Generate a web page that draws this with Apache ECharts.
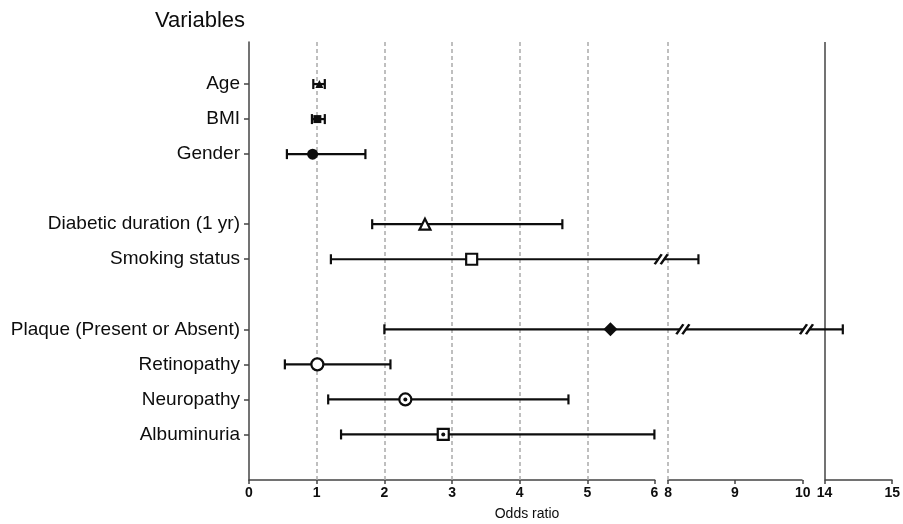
<!DOCTYPE html>
<html><head><meta charset="utf-8">
<script src="https://cdn.jsdelivr.net/npm/echarts@6/dist/echarts.min.js"></script>
<style>html,body{margin:0;padding:0;background:#fff}#c{width:903px;height:524px}</style>
</head><body><div id="c"></div>
<script>
// ---- data ----
const variables = ['Age','BMI','Gender','Diabetic duration (1 yr)','Smoking status','Plaque (Present or Absent)','Retinopathy','Neuropathy','Albuminuria'];
const rowIndex = [1,2,3,5,6,8,9,10,11];
const oddsRatio = [1.04,1.01,0.94,2.60,3.29,5.34,1.01,2.31,2.87];
const ciLower   = [0.95,0.93,0.56,1.82,1.21,2.00,0.53,1.17,1.36];
const ciUpper   = [1.12,1.12,1.72,4.63,8.46,14.27,2.09,4.72,5.99];
const markerShape  = ['triangle','rect','circle','triangle','rect','diamond','circle','circle','rect'];
const markerFilled = [true,true,true,false,false,true,false,false,false];
const markerDot    = [false,false,false,false,false,false,false,true,true];
const refLines = [1,2,3,4,5,8];
const solidLine = [14];
const breakMarkX = [7, 8.23, 10.7];
const breakMarkRow = [6, 8, 8];
const axisBreaks = [[6,8],[10,14]];

// ---- build ----
const INK = '#0d0d0d';
const AX = '#444';
const sizes = {triangle:11, rect:11, circle:12, diamond:14};
const markerData = variables.map((v,i)=>({
  value:[oddsRatio[i], rowIndex[i]],
  symbol: markerShape[i],
  symbolSize: (i<2) ? 8 : (i===2 ? 11 : sizes[markerShape[i]]),
  itemStyle:{color: markerFilled[i] ? INK : '#fff', borderColor: INK, borderWidth: markerFilled[i]?0:2.2, opacity:1}
}));
const dotData = variables.map((v,i)=>markerDot[i]?[oddsRatio[i], rowIndex[i]]:null).filter(d=>d);
const barData = variables.map((v,i)=>[ciLower[i], ciUpper[i], rowIndex[i]]);
const breakData = breakMarkX.map((x,i)=>[x, breakMarkRow[i]]);

const chart = echarts.init(document.getElementById('c'), null, {renderer:'canvas'});
chart.setOption({
  animation:false,
  textStyle:{fontFamily:'Liberation Sans, Arial, sans-serif'},
  grid:{left:249, right:6, top:42, bottom:44, containLabel:false},
  graphic:[
    {type:'text', x:245, y:21, style:{text:'Variables', align:'right', verticalAlign:'middle', textAlign:'right', textVerticalAlign:'middle', font:'22px "Liberation Sans", Arial, sans-serif', fill:INK}},
    {type:'text', x:527, y:514, style:{text:'Odds ratio', align:'center', verticalAlign:'middle', textAlign:'center', textVerticalAlign:'middle', font:'14px "Liberation Sans", Arial, sans-serif', fill:INK}}
  ],
  xAxis:{
    type:'value', min:0, max:15, interval:1, position:'bottom',
    breaks: axisBreaks.map(b=>({start:b[0], end:b[1], gap: b[0]===6 ? '1.9%' : '3.4%'})),
    breakArea:{show:true, expandOnClick:false, zigzagAmplitude:0, zigzagZ:1,
      itemStyle:{color:'#fff', borderWidth:0, opacity:1}},
    axisLine:{show:true, onZero:false, lineStyle:{color:AX, width:1.5}},
    axisTick:{show:true, length:4, lineStyle:{color:AX, width:1.5}},
    axisLabel:{fontSize:14, fontWeight:'bold', color:INK, margin:6},
    splitLine:{show:false}
  },
  yAxis:{
    type:'value', inverse:true, min:-0.2, max:12.3,
    axisLine:{show:true, onZero:false, lineStyle:{color:AX, width:1.5}},
    axisTick:{show:true, length:5, customValues:rowIndex, lineStyle:{color:AX, width:1.5}},
    axisLabel:{customValues:rowIndex, fontSize:19, color:INK, margin:9,
      formatter:(v)=>{const k=rowIndex.indexOf(Math.round(v)); return k>=0?variables[k]:'';}},
    splitLine:{show:false}
  },
  series:[
    {type:'line', data:[], z:1, silent:true,
      markLine:{silent:true, symbol:'none', label:{show:false}, animation:false,
        data:[...refLines.map(x=>({xAxis:x, lineStyle:{type:[4,3], color:'#aaaaaa', width:1.5}})),
              ...solidLine.map(x=>({xAxis:x, lineStyle:{type:'solid', color:AX, width:1.5}}))]}},
    {type:'custom', z:5, data:barData, encode:{x:[0,1], y:2}, silent:true,
      renderItem:(params, api)=>{
        const y = api.value(2);
        const p1 = api.coord([api.value(0), y]);
        const p2 = api.coord([api.value(1), y]);
        const h = 5;
        const st = {stroke:INK, lineWidth:2.2};
        return {type:'group', children:[
          {type:'line', shape:{x1:p1[0],y1:p1[1],x2:p2[0],y2:p2[1]}, style:st},
          {type:'line', shape:{x1:p1[0],y1:p1[1]-h,x2:p1[0],y2:p1[1]+h}, style:st},
          {type:'line', shape:{x1:p2[0],y1:p2[1]-h,x2:p2[0],y2:p2[1]+h}, style:st}
        ]};
      }},
    {type:'scatter', z:6, silent:true, data:breakData,
      symbol:'path://M0,10L7,0L13,0L6,10Z', symbolSize:[13,10], symbolKeepAspect:false,
      itemStyle:{color:'#fff', opacity:1}},
    {type:'scatter', z:7, silent:true, data:breakData,
      symbol:'path://M0,10L7,0M6,10L13,0', symbolSize:[13,10], symbolKeepAspect:false,
      itemStyle:{color:'transparent', borderColor:INK, borderWidth:2.2, opacity:1}},
    {type:'scatter', z:8, silent:true, data:markerData, itemStyle:{opacity:1}},
    {type:'scatter', z:9, silent:true, data:dotData, symbol:'circle', symbolSize:4, itemStyle:{color:INK, opacity:1}}
  ]
});
</script></body></html>
